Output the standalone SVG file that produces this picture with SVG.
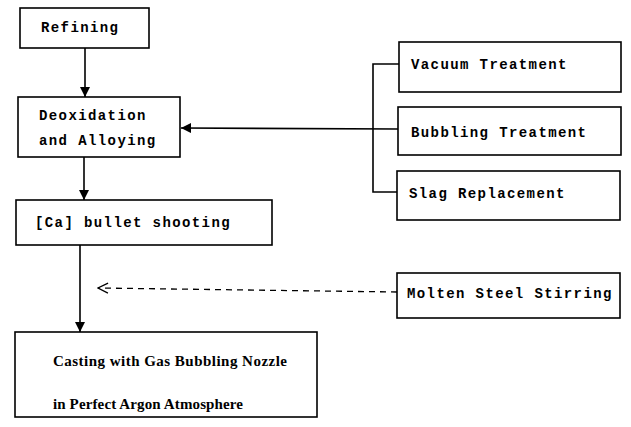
<svg xmlns="http://www.w3.org/2000/svg" width="631" height="427" viewBox="0 0 631 427">
<defs>
<style>
.box{fill:#fff;stroke:#000;stroke-width:1.6}
.t{font-family:"Liberation Mono","DejaVu Sans Mono",monospace;font-weight:bold;font-size:14px;letter-spacing:1.4px;fill:#000}
.s{font-family:"Liberation Serif","Times New Roman",serif;font-weight:bold;font-size:15px;fill:#000}
.c{fill:none;stroke:#000;stroke-width:1.6}
.d{fill:none;stroke:#000;stroke-width:1.3;stroke-dasharray:6 5}
</style>
<marker id="ah" viewBox="0 0 10 10" refX="10" refY="5" markerWidth="10" markerHeight="10" markerUnits="userSpaceOnUse" orient="auto">
<path d="M0,0 L10,5 L0,10 Z" fill="#000"/>
</marker>
<marker id="oh" viewBox="0 0 12 12" refX="11" refY="6" markerWidth="12" markerHeight="12" markerUnits="userSpaceOnUse" orient="auto">
<path d="M1,1 L11,6 L1,11" fill="none" stroke="#000" stroke-width="1.3"/>
</marker>
</defs>
<rect width="631" height="427" fill="#fff"/>
<g id="connectors">
<line class="c" x1="85" y1="48" x2="85" y2="97" marker-end="url(#ah)"/>
<line class="c" x1="84" y1="157" x2="84" y2="200" marker-end="url(#ah)"/>
<line class="c" x1="80" y1="245" x2="80" y2="332" marker-end="url(#ah)"/>
<line class="c" x1="398" y1="129" x2="181" y2="128" marker-end="url(#ah)"/>
<path class="c" d="M400,64 H373 V192 H397"/>
<line class="d" x1="397" y1="292" x2="98" y2="288" marker-end="url(#oh)"/>
</g>
<g id="refining">
<rect class="box" x="20" y="8" width="129" height="40"/>
<text class="t" x="41" y="32">Refining</text>
</g>
<g id="deoxidation">
<rect class="box" x="18" y="97" width="162" height="60"/>
<text class="t" x="39" y="120">Deoxidation</text>
<text class="t" x="39" y="145">and Alloying</text>
</g>
<g id="ca-shooting">
<rect class="box" x="16" y="200" width="256" height="45"/>
<text class="t" x="35" y="227">[Ca] bullet shooting</text>
</g>
<g id="casting">
<rect class="box" x="15" y="332" width="302" height="85"/>
<text class="s" x="53" y="366" textLength="234" lengthAdjust="spacing">Casting with Gas Bubbling Nozzle</text>
<text class="s" x="53" y="409" textLength="190" lengthAdjust="spacing">in Perfect Argon Atmosphere</text>
</g>
<g id="vacuum">
<rect class="box" x="399" y="42" width="222" height="50"/>
<text class="t" x="411" y="69">Vacuum Treatment</text>
</g>
<g id="bubbling">
<rect class="box" x="398" y="107" width="223" height="48"/>
<text class="t" x="411" y="137">Bubbling Treatment</text>
</g>
<g id="slag">
<rect class="box" x="397" y="171" width="223" height="49"/>
<text class="t" x="409" y="198">Slag Replacement</text>
</g>
<g id="stirring">
<rect class="box" x="397" y="273" width="223" height="45"/>
<text class="t" x="407" y="298">Molten Steel Stirring</text>
</g>
</svg>
